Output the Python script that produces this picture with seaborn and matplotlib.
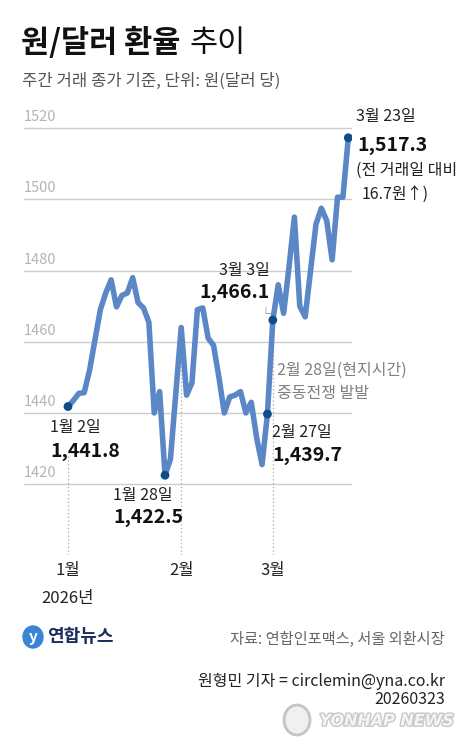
import numpy as np
import pandas as pd
import matplotlib
matplotlib.use('Agg')
import matplotlib.pyplot as plt
import matplotlib.patheffects as pe
import seaborn as sns

# ── Data ─────────────────────────────────────────────────────────
holidays = ["2026-02-16", "2026-02-17", "2026-02-18", "2026-03-02"]
dates = [d for d in pd.bdate_range("2026-01-02", "2026-03-23")
         if d.strftime("%Y-%m-%d") not in holidays]

rates = [1441.8, 1443.5, 1445.5, 1445.7, 1452.0, 1460.5, 1469.0, 1473.7,
         1477.4, 1469.8, 1473.0, 1473.7, 1478.0, 1471.0, 1469.5, 1465.5,
         1440.0, 1446.0, 1422.5, 1427.0, 1445.5, 1464.0, 1445.0, 1448.5,
         1469.0, 1469.5, 1461.0, 1459.0, 1450.0, 1440.0, 1444.5, 1445.0,
         1446.0, 1440.0, 1443.0, 1433.0, 1425.5, 1439.7, 1466.1, 1476.0,
         1468.0, 1481.0, 1495.0, 1470.0, 1467.0, 1480.0, 1493.0, 1497.5,
         1494.0, 1483.0, 1500.6, 1500.6, 1517.3]

yticks = [1420, 1440, 1460, 1480, 1500, 1520]
month_starts = ["2026-01-02", "2026-02-02", "2026-03-03"]
month_labels = ["1월", "2월", "3월"]
year_label = "2026년"

hl_dates = ["2026-01-02", "2026-01-28", "2026-02-27", "2026-03-03", "2026-03-23"]
hl_day_labels = ["1월 2일", "1월 28일", "2월 27일", "3월 3일", "3월 23일"]

df = pd.DataFrame({"date": dates, "rate": rates})
df["idx"] = np.arange(len(df))
hl = df[df["date"].isin(pd.to_datetime(hl_dates))]

# ── Style ────────────────────────────────────────────────────────
sns.set_style("white")
plt.rcParams['font.family'] = ['Noto Sans CJK KR', 'DejaVu Sans']

W, H = 466, 750
fig = plt.figure(figsize=(W / 100, H / 100), dpi=100)
ax = fig.add_axes([24 / W, 195 / H, 328 / W, 445 / H])

LINE = "#5b87c7"
DOT = "#0f4d8a"

for t in yticks:
    ax.axhline(t, color="#cccccc", lw=1.0, zorder=1)

sns.lineplot(data=df, x="idx", y="rate", color=LINE, linewidth=4.0,
             ax=ax, zorder=3)
sns.scatterplot(data=hl, x="idx", y="rate", color=DOT, s=40,
                edgecolor="none", ax=ax, zorder=4)

step = 280.3 / (len(df) - 1)
ax.set_xlim(-44 / step, 284 / step)
ax.set_ylim(1400.1, 1525.1)
ax.set_xlabel("")
ax.set_ylabel("")
ax.set_xticks([])
ax.set_yticks([])
sns.despine(ax=ax, left=True, bottom=True)

x0 = ax.get_xlim()[0]
for t in yticks:
    ax.text(x0, t + 1.1, str(t), ha="left", va="bottom", fontsize=10.5,
            color="#b4b4b4", fontweight="light")

# month guides
month_idx = [int(df.loc[df["date"] == pd.Timestamp(m), "idx"].iloc[0])
             for m in month_starts]
tr = ax.get_xaxis_transform()
for k, (i, lab) in enumerate(zip(month_idx, month_labels)):
    top = 1428 if k == 0 else df["rate"].iloc[i]
    ax.vlines(i, 1400.1, top, colors="#aaaaaa", linestyles=(0, (1, 2)),
              lw=0.9, zorder=2)
    ax.text(i, 1 - (571 - 110) / 445, lab, transform=tr, ha="center",
            va="center", fontsize=12, color="#222222", clip_on=False)
ax.text(month_idx[0], 1 - (598 - 110) / 445, year_label, transform=tr,
        ha="center", va="center", fontsize=12, color="#222222", clip_on=False)

# ── Annotations ──────────────────────────────────────────────────
def note(i, dx, dy, s, ha="left", size=11.5, weight="normal", color="#222222"):
    ax.annotate(s, xy=(df["idx"].iloc[i], df["rate"].iloc[i]),
                xytext=(dx, dy), textcoords="offset pixels", ha=ha,
                va="center", fontsize=size, fontweight=weight, color=color,
                annotation_clip=False)

pos = {d: int(df.loc[df["date"] == pd.Timestamp(d), "idx"].iloc[0]) for d in hl_dates}
val = {d: f"{df['rate'].iloc[pos[d]]:,.1f}" for d in hl_dates}

# 1월 2일
i = pos[hl_dates[0]]
note(i, -18, -21, hl_day_labels[0])
note(i, -18, -45, val[hl_dates[0]], size=14, weight="bold", color="#111111")
# 1월 28일
i = pos[hl_dates[1]]
note(i, -52, -20, hl_day_labels[1])
note(i, -52, -42, val[hl_dates[1]], size=14, weight="bold", color="#111111")
# 2월 27일
i = pos[hl_dates[2]]
note(i, 5, -18, hl_day_labels[2])
note(i, 5, -41, val[hl_dates[2]], size=14, weight="bold", color="#111111")
note(i, 10, 44, "2월 28일(현지시간)", color="#808080")
note(i, 10, 21, "중동전쟁 발발", color="#808080")
# 3월 3일
i = pos[hl_dates[3]]
note(i, -3, 50, hl_day_labels[3], ha="right")
note(i, -3, 28, val[hl_dates[3]], ha="right", size=14, weight="bold",
     color="#111111")
note(i, -15, 5, "└", size=10, color="#888888")
# 3월 23일
i = pos[hl_dates[4]]
note(i, 8, 21, hl_day_labels[4])
note(i, 9, -8, val[hl_dates[4]], size=14, weight="bold", color="#111111")
note(i, 8, -33, "(전 거래일 대비")
note(i, 13, -57, "16.7원↑)")

# ── Title / footer ───────────────────────────────────────────────
def fx(x):
    return x / W

def fy(y):
    return 1 - y / H

t1 = fig.text(fx(21), fy(43), "원/달러 환율", fontsize=22, fontweight="bold",
              color="#111111", va="center", ha="left")
fig.canvas.draw()
bb = t1.get_window_extent()
fig.text((bb.x1 + 9) / W, fy(43), "추이", fontsize=22, fontweight="light",
         color="#111111", va="center", ha="left")
fig.text(fx(22), fy(81), "주간 거래 종가 기준, 단위: 원(달러 당)", fontsize=12,
         color="#555555", va="center", ha="left")

# logo
fig.patches.append(matplotlib.patches.Ellipse(
    (fx(33), fy(637)), 20 / W, 22 / H, transform=fig.transFigure,
    color="#3b84d4", zorder=5))
fig.text(fx(33), fy(637), "y", fontsize=11, fontstyle="italic",
         color="white", ha="center", va="center", fontweight="bold", zorder=6)
fig.text(fx(47), fy(637), "연합뉴스", fontsize=13, fontweight="bold",
         color="#1c2c5b", va="center", ha="left")

fig.text(fx(445), fy(639), "자료: 연합인포맥스, 서울 외환시장", fontsize=11,
         color="#666666", va="center", ha="right")
fig.text(fx(445), fy(681), "원형민 기자 = circlemin@yna.co.kr", fontsize=11.5,
         color="#222222", va="center", ha="right")
fig.text(fx(445), fy(700), "20260323", fontsize=11.5, color="#222222",
         va="center", ha="right")

# watermark
fig.patches.append(matplotlib.patches.Ellipse(
    (fx(297), fy(720)), 26 / W, 30 / H, transform=fig.transFigure,
    facecolor="#f0f0f0", edgecolor="#c4c4c4", lw=2, zorder=5))
fig.text(fx(454), fy(721), "YONHAP NEWS", fontsize=11.5, fontweight="bold",
         fontstyle="italic", color="#f4f4f4", va="center", ha="right",
         family="DejaVu Sans",
         path_effects=[pe.Stroke(linewidth=2, foreground="#c8c8c8"), pe.Normal()])

fig.savefig("out.png", dpi=100)
